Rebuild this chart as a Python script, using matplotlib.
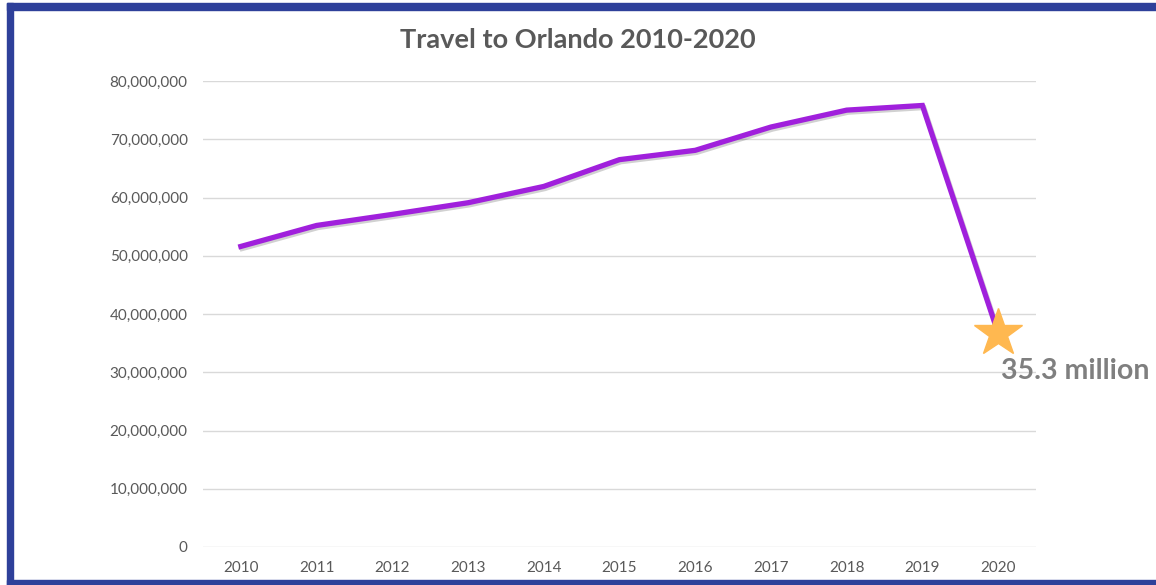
""" Travel to Orlando 2010-2020, line chart """

import matplotlib.pyplot as plt
import matplotlib.patheffects as pe
from matplotlib.patches import Rectangle
from matplotlib.ticker import FuncFormatter

plt.rcParams['font.family'] = ['Lato', 'DejaVu Sans']

years = ['2010', '2011', '2012', '2013', '2014', '2015', '2016', '2017', '2018', '2019', '2020']
visitors = [51.6e6, 55.2e6, 57.1e6, 59.1e6, 61.9e6, 66.5e6, 68.1e6, 72.1e6, 75.0e6, 75.8e6, 36.7e6]
y_ticks = [0, 10e6, 20e6, 30e6, 40e6, 50e6, 60e6, 70e6, 80e6]
callout = '35.3 million'

GRAY = '#595959'
PURPLE = '#A020DC'
STAR = '#FFB850'
BORDER = '#2E409A'

fig = plt.figure(figsize=(11.56, 5.85), dpi=100)
ax = fig.add_axes([203/1156, 1 - 547/585, (1036 - 203)/1156, (547 - 81)/585])

x = list(range(len(years)))
ax.plot(x, visitors, color=PURPLE, lw=3.8, solid_joinstyle='miter', zorder=3,
        path_effects=[pe.SimpleLineShadow(offset=(1, -1.5), alpha=0.18), pe.Normal()])
ax.plot(x[-1], visitors[-1], marker='*', ms=36, color=STAR, mec=STAR, zorder=4)
ax.annotate(callout, (x[-1], visitors[-1]), xytext=(2, -27), textcoords='offset points',
            ha='left', va='center', fontsize=20.5, fontweight='bold', color='#7F7F7F')

ax.set_xlim(-0.5, len(years) - 0.5)
ax.set_ylim(0, 80e6)
ax.set_xticks(x)
ax.set_xticklabels(years)
ax.set_yticks(y_ticks)
ax.yaxis.set_major_formatter(FuncFormatter(lambda v, p: f'{int(v):,}'))
ax.tick_params(length=0, labelsize=11, labelcolor=GRAY)
ax.tick_params(axis='y', pad=11)
ax.tick_params(axis='x', pad=10)
ax.grid(axis='y', color='#D9D9D9', lw=1)
ax.set_axisbelow(True)
for s in ax.spines.values():
    s.set_visible(False)

fig.text(0.5, 1 - 40/585, 'Travel to Orlando 2010-2020', ha='center', va='center',
         fontsize=19.5, fontweight='bold', color=GRAY)

# dark blue frame (left, top, bottom)
fig.patches.append(Rectangle((7/1156, 0), 6/1156, 1 - 3/585, transform=fig.transFigure, color=BORDER))
fig.patches.append(Rectangle((7/1156, 1 - 10/585), 1, 7/585, transform=fig.transFigure, color=BORDER))
fig.patches.append(Rectangle((7/1156, 0), 1, 5/585, transform=fig.transFigure, color=BORDER))

fig.savefig('out.png', dpi=100)
